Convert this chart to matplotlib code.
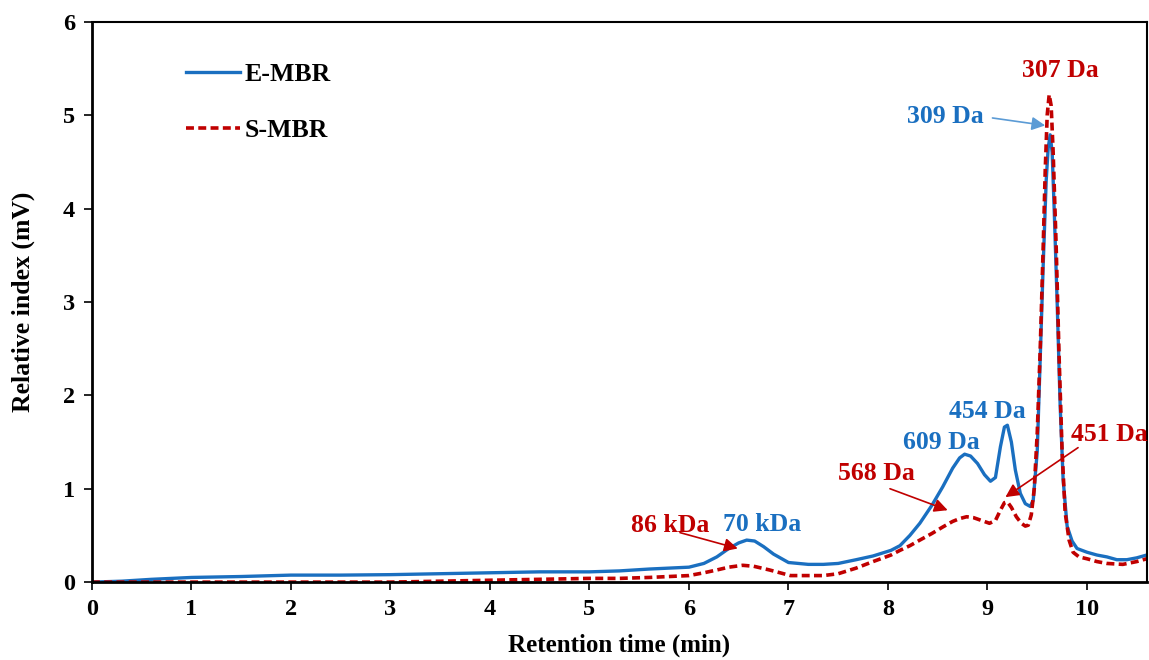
import matplotlib
matplotlib.use('Agg')
import matplotlib.pyplot as plt

plt.rcParams['font.family'] = ['Liberation Serif', 'DejaVu Serif']
plt.rcParams['font.weight'] = 'bold'

# Retention time (min) and signal (mV)
e_time = [0, 0.3, 0.6, 1.0, 1.5, 2.0, 2.5, 3.0, 3.5, 4.0, 4.5, 5.0, 5.3, 5.6, 5.8, 6.0,
          6.15, 6.28, 6.4, 6.5, 6.58, 6.66, 6.75, 6.85, 7.0, 7.2, 7.35, 7.5, 7.68, 7.85,
          8.03, 8.12, 8.22, 8.32, 8.44, 8.55, 8.65, 8.72, 8.77, 8.83, 8.9, 8.97, 9.03,
          9.08, 9.13, 9.17, 9.2, 9.24, 9.28, 9.33, 9.38, 9.43, 9.46, 9.5, 9.53, 9.56,
          9.59, 9.61, 9.63, 9.65, 9.67, 9.7, 9.73, 9.76, 9.8, 9.85, 9.9, 10.0, 10.1,
          10.2, 10.3, 10.4, 10.5, 10.6]
e_mbr = [0.0, 0.01, 0.03, 0.05, 0.06, 0.075, 0.075, 0.08, 0.09, 0.1, 0.11, 0.11, 0.12, 0.14, 0.15, 0.16,
         0.2, 0.27, 0.36, 0.42, 0.45, 0.44, 0.38, 0.3, 0.21, 0.19, 0.19, 0.2, 0.24, 0.28,
         0.34, 0.39, 0.5, 0.63, 0.82, 1.02, 1.22, 1.33, 1.37, 1.35, 1.27, 1.15, 1.08,
         1.12, 1.45, 1.66, 1.68, 1.5, 1.2, 0.95, 0.84, 0.81, 0.88, 1.4, 2.4, 3.4,
         4.3, 4.65, 4.79, 4.6, 4.0, 3.0, 1.9, 1.1, 0.6, 0.44, 0.36, 0.32, 0.29,
         0.27, 0.24, 0.24, 0.26, 0.29]

s_time = [0, 0.5, 1.0, 2.0, 3.0, 3.5, 4.0, 4.5, 5.0, 5.3, 5.6, 5.8, 6.0, 6.15, 6.28,
          6.4, 6.54, 6.65, 6.81, 7.02, 7.2, 7.35, 7.5, 7.68, 7.85, 8.03, 8.12, 8.22,
          8.32, 8.44, 8.55, 8.65, 8.72, 8.79, 8.86, 8.94, 9.02, 9.08, 9.13, 9.17, 9.2,
          9.24, 9.29, 9.34, 9.38, 9.41, 9.44, 9.47, 9.5, 9.53, 9.56, 9.58, 9.6, 9.62,
          9.64, 9.66, 9.69, 9.72, 9.75, 9.78, 9.82, 9.86, 9.92, 10.0, 10.1, 10.2,
          10.36, 10.5, 10.6]
s_mbr = [0.0, 0.0, 0.0, 0.0, 0.0, 0.01, 0.02, 0.03, 0.04, 0.04, 0.05, 0.06, 0.07, 0.1, 0.13,
         0.16, 0.18, 0.17, 0.13, 0.07, 0.07, 0.07, 0.09, 0.15, 0.22, 0.29, 0.34, 0.39,
         0.45, 0.52, 0.59, 0.65, 0.68, 0.70, 0.69, 0.66, 0.63, 0.66, 0.77, 0.85, 0.86,
         0.8, 0.7, 0.63, 0.6, 0.61, 0.72, 1.0, 1.6, 2.5, 3.6, 4.4, 5.0, 5.22,
         5.1, 4.6, 3.6, 2.4, 1.4, 0.75, 0.45, 0.32, 0.27, 0.25, 0.22, 0.2,
         0.19, 0.22, 0.25]

# peak labels: (text, x, y, colour key)
peak_labels = [('307 Da', 9.73, 5.48, 'red'), ('309 Da', 8.58, 4.99, 'blue'),
               ('454 Da', 9.0, 1.83, 'blue'), ('609 Da', 8.54, 1.5, 'blue'),
               ('70 kDa', 6.74, 0.62, 'blue'), ('451 Da', 10.22, 1.58, 'red'),
               ('568 Da', 7.88, 1.16, 'red'), ('86 kDa', 5.81, 0.61, 'red')]
# arrows: (start, end, colour key)
arrows = [((9.05, 4.97), (9.58, 4.89), 'lightblue'),
          ((9.91, 1.44), (9.18, 0.91), 'red'),
          ((8.02, 1.0), (8.6, 0.77), 'red'),
          ((5.91, 0.53), (6.49, 0.36), 'red')]

colors = {'blue': '#1a6fc0', 'red': '#c00000', 'lightblue': '#5b9bd5'}

fig = plt.figure(figsize=(11.49, 6.6), dpi=100)
ax = fig.add_axes([0.080, 0.118, 0.918, 0.849])

ax.plot(e_time, e_mbr, color=colors['blue'], linewidth=2.4, label='E-MBR')
ax.plot(s_time, s_mbr, color=colors['red'], linewidth=2.6, linestyle=(0, (2.2, 1.2)), label='S-MBR')

ax.set_xlim(0, 10.6)
ax.set_ylim(0, 6)
ax.set_xticks(range(0, 11))
ax.set_yticks(range(0, 7))
ax.tick_params(direction='out', length=6, width=1.2, labelsize=17.5, pad=6)
for lab in ax.get_xticklabels() + ax.get_yticklabels():
    lab.set_fontweight('bold')
for sp in ax.spines.values():
    sp.set_linewidth(1.5)
ax.spines['left'].set_linewidth(2)
ax.spines['bottom'].set_linewidth(2)

ax.set_xlabel('Retention time (min)', fontsize=18, fontweight='bold', labelpad=10)
ax.set_ylabel('Relative index (mV)', fontsize=18.5, fontweight='bold', labelpad=20)

leg = ax.legend(loc='upper left', bbox_to_anchor=(0.067, 0.968), frameon=False,
                fontsize=18.5, handlelength=2.1, labelspacing=1.3, handletextpad=0.2)
for t in leg.get_texts():
    t.set_fontweight('bold')

for txt, x, y, c in peak_labels:
    ax.text(x, y, txt, color=colors[c], fontsize=18.5, fontweight='bold', ha='center', va='center')

for start, end, c in arrows:
    ax.annotate('', xy=end, xytext=start,
                arrowprops=dict(arrowstyle='-|>', color=colors[c], lw=1.2,
                                mutation_scale=20, shrinkA=0, shrinkB=0))

fig.savefig('out.png', dpi=100)
